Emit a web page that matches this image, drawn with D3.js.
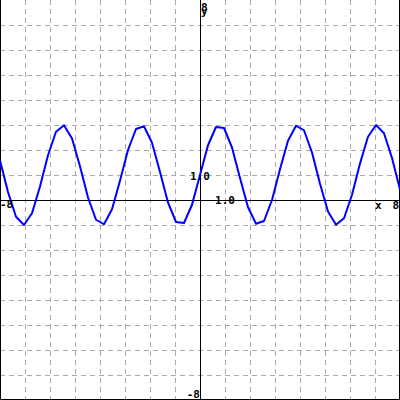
<!DOCTYPE html>
<html>
<head>
<meta charset="utf-8">
<script src="https://cdn.jsdelivr.net/npm/d3@7"></script>
<style>
  body { margin: 0; background: #fff; }
  svg { display: block; }
  text { font-family: "DejaVu Sans Mono", monospace; font-weight: bold; font-size: 11px; fill: #000; }
</style>
</head>
<body>
<div id="chart"></div>
<script>
const WIDTH = 400;
const HEIGHT = 400;

const xs = d3.range(51).map(k => -8 + 0.32 * k);
const ys = [
  1.58, 0.32, -0.67, -1.00, -0.53, 0.54, 1.79, 2.73, 2.99, 2.46,
  1.35, 0.10, -0.79, -0.97, -0.37, 0.77, 2.00, 2.84, 2.95, 2.29,
  1.12, -0.10, -0.88, -0.92, -0.19, 1.00, 2.19, 2.92, 2.88, 2.10,
  0.88, -0.29, -0.95, -0.84, 0.00, 1.23, 2.37, 2.97, 2.79, 1.90,
  0.65, -0.46, -0.99, -0.73, 0.21, 1.46, 2.53, 3.00, 2.67, 1.68,
  0.42
];
const gridTicks = d3.range(-7, 8).filter(d => d !== 0);

const x = d3.scaleLinear().domain([-8, 8]).range([0, WIDTH]);
const y = d3.scaleLinear().domain([-8, 8]).range([HEIGHT, 0]);

const svg = d3.select('#chart')
  .append('svg')
    .attr('width', WIDTH)
    .attr('height', HEIGHT);

// grid
svg.append('g').selectAll('line.v')
  .data(gridTicks)
  .enter().append('line')
    .attr('x1', d => x(d) + 0.5).attr('x2', d => x(d) + 0.5)
    .attr('y1', 0).attr('y2', HEIGHT)
    .attr('stroke', '#aaa')
    .attr('stroke-dasharray', '5,4');

svg.append('g').selectAll('line.h')
  .data(gridTicks)
  .enter().append('line')
    .attr('y1', d => y(d) + 0.5).attr('y2', d => y(d) + 0.5)
    .attr('x1', 0).attr('x2', WIDTH)
    .attr('stroke', '#aaa')
    .attr('stroke-dasharray', '5,4');

// axes
svg.append('line')
  .attr('x1', 0).attr('x2', WIDTH)
  .attr('y1', y(0) + 0.5).attr('y2', y(0) + 0.5)
  .attr('stroke', '#000');
svg.append('line')
  .attr('x1', x(0) + 0.5).attr('x2', x(0) + 0.5)
  .attr('y1', 0).attr('y2', HEIGHT)
  .attr('stroke', '#000');

// frame (left, right, bottom)
svg.append('path')
  .attr('d', `M0.5,0V${HEIGHT - 0.5}H${WIDTH - 0.5}V0`)
  .attr('fill', 'none')
  .attr('stroke', '#000');

// curve
const line = d3.line()
  .x((d, i) => x(xs[i]))
  .y(d => y(d));

svg.append('path')
  .datum(ys)
  .attr('d', line)
  .attr('fill', 'none')
  .attr('stroke', '#0000ff')
  .attr('stroke-width', 2)
  .attr('stroke-linejoin', 'round');

// labels
svg.append('text').attr('x', 0).attr('y', y(0) + 8).text('-8');
svg.append('text').attr('x', x(8) - 1).attr('y', y(0) + 9).attr('text-anchor', 'end').text('8');
svg.append('text').attr('x', x(7)).attr('y', y(0) + 9).text('x');
svg.append('text').attr('x', x(0) + 1).attr('y', 11).text('8');
svg.append('text').attr('x', x(0) + 1).attr('y', 15).text('y');
svg.append('text').attr('x', x(0)).attr('y', HEIGHT - 2).attr('text-anchor', 'end').text('-8');
svg.append('text').attr('x', x(0)).attr('y', y(1) + 5).attr('text-anchor', 'middle').text('1.0');
svg.append('text').attr('x', x(1)).attr('y', y(0) + 4).attr('text-anchor', 'middle').text('1.0');
</script>
</body>
</html>
